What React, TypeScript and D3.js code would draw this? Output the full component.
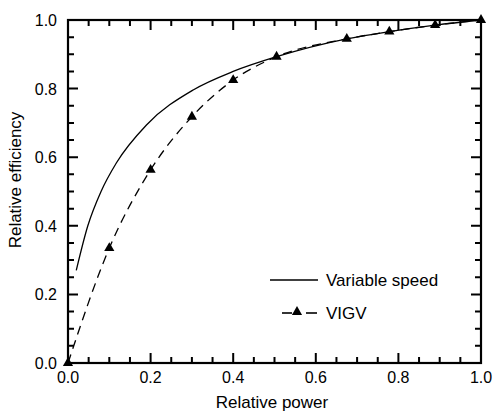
import React from "react";
import * as d3 from "d3";

const speedX = [0.02, 0.048, 0.08, 0.117, 0.19, 0.303, 0.4, 0.505, 0.675, 0.778, 0.889, 1.0];
const speedY = [0.27, 0.4, 0.5, 0.583, 0.694, 0.796, 0.85, 0.893, 0.945, 0.966, 0.985, 1.0];
const vigvX = [0.0, 0.1, 0.2, 0.3, 0.4, 0.505, 0.675, 0.778, 0.889, 1.0];
const vigvY = [0.0, 0.335, 0.563, 0.718, 0.825, 0.893, 0.945, 0.966, 0.985, 1.0];
const majorTicks = [0, 0.2, 0.4, 0.6, 0.8, 1.0];
const minorTicks = [0, 0.05, 0.1, 0.15, 0.2, 0.25, 0.3, 0.35, 0.4, 0.45, 0.5, 0.55, 0.6, 0.65, 0.7, 0.75, 0.8, 0.85, 0.9, 0.95, 1.0];
const xLabel = "Relative power";
const yLabel = "Relative efficiency";
const legendNames = ["Variable speed", "VIGV"];

const W = 495, H = 413;
const L = 68, R = 481, T = 20, B = 363;
const FONT = "Arial, 'Liberation Sans', Helvetica, sans-serif";

export default function App() {
  const x = d3.scaleLinear().domain([0, 1]).range([L, R]);
  const y = d3.scaleLinear().domain([0, 1]).range([B, T]);
  const line = d3.line<[number, number]>().x(d => x(d[0])).y(d => y(d[1])).curve(d3.curveMonotoneX);
  const speedPts = speedX.map((v, i) => [v, speedY[i]] as [number, number]);
  const vigvPts = vigvX.map((v, i) => [v, vigvY[i]] as [number, number]);
  const tri = d3.symbol().type(d3.symbolTriangle).size(45)();
  const ML = 10, mL = 6;
  let tickPath = "";
  minorTicks.forEach((t, i) => {
    const len = i % 4 === 0 ? ML : mL;
    const xt = x(t), yt = y(t);
    tickPath += `M${xt},${B}V${B - len}`;
    tickPath += `M${xt},${T}V${T + len}`;
    tickPath += `M${L},${yt}H${L + len}`;
    tickPath += `M${R},${yt}H${R - len}`;
  });

  return (
    <svg width={W} height={H} style={{ position: "absolute", left: 0, top: 0 }} fontFamily={FONT}>
      <rect width={W} height={H} fill="#fff" />
      <path d={line(speedPts) || ""} fill="none" stroke="#000" strokeWidth={1.3} />
      <path d={line(vigvPts) || ""} fill="none" stroke="#000" strokeWidth={1.3} strokeDasharray="9 6" />
      {vigvPts.map((p, i) => (
        <path key={i} d={tri} transform={`translate(${x(p[0])},${y(p[1])})`} fill="#000" />
      ))}
      <path d={tickPath} fill="none" stroke="#000" strokeWidth={2} />
      <rect x={L} y={T} width={R - L} height={B - T} fill="none" stroke="#000" strokeWidth={2.2} />
      {majorTicks.map((t, i) => (
        <g key={i} fontSize={16} fill="#000">
          <text x={x(t)} y={383} textAnchor="middle">{t.toFixed(1)}</text>
          <text x={57} y={y(t) + 6} textAnchor="end">{t.toFixed(1)}</text>
        </g>
      ))}
      <text x={272} y={408} textAnchor="middle" fontSize={17}>{xLabel}</text>
      <text transform={`translate(21,180) rotate(-90)`} textAnchor="middle" fontSize={17}>{yLabel}</text>
      {/* legend */}
      <line x1={270} x2={318} y1={280} y2={280} stroke="#000" strokeWidth={1.3} />
      <text x={326} y={286} fontSize={17}>{legendNames[0]}</text>
      <line x1={282} x2={292} y1={313} y2={313} stroke="#000" strokeWidth={1.6} />
      <line x1={306} x2={317} y1={313} y2={313} stroke="#000" strokeWidth={1.6} />
      <path d={tri} transform="translate(297,312)" fill="#000" />
      <text x={326} y={319} fontSize={17}>{legendNames[1]}</text>
    </svg>
  );
}
